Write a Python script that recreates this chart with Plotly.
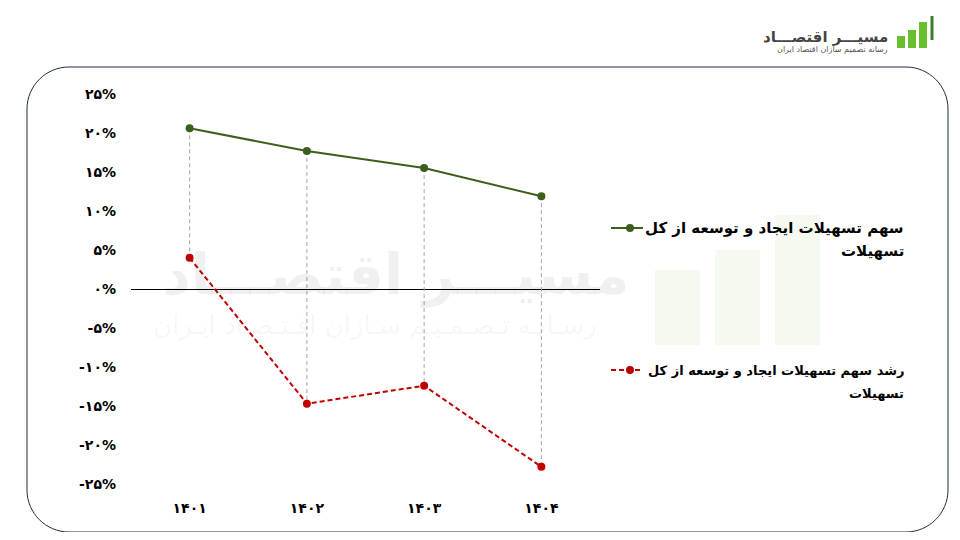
import plotly.graph_objects as go

years = ["۱۴۰۱", "۱۴۰۲", "۱۴۰۳", "۱۴۰۴"]
share = [20.6, 17.7, 15.5, 11.9]
growth = [4.0, -14.7, -12.4, -22.8]
share_name = "سهم تسهیلات ایجاد و توسعه از کل"
growth_name = "رشد سهم تسهیلات ایجاد و توسعه از کل"
name_tail = "تسهیلات"
tick_vals = [25, 20, 15, 10, 5, 0, -5, -10, -15, -20, -25]
tick_text = ["۲۵%", "۲۰%", "۱۵%", "۱۰%", "۵%", "۰%", "-۵%", "-۱۰%", "-۱۵%", "-۲۰%", "-۲۵%"]

GREEN = "#3d5e1c"
RED = "#c00000"
FONT = "DejaVu Sans"

OFF = 8  # page body margin
W, H = 960 - 2 * OFF, 540 - 2 * OFF
# reference pixel positions of the plot area
L, R, T, B = 131, 600, 94, 484


def px(x):
    return (x - L) / (R - L)


def py(y):
    return (B - y) / (B - T)


fig = go.Figure()

# drop lines between the two series
dx, dy = [], []
for c, g, r in zip(years, share, growth):
    dx += [c, c, None]
    dy += [g, r, None]
fig.add_trace(go.Scatter(x=dx, y=dy, mode="lines",
                         line=dict(color="#a6a6a6", width=1, dash="4px,3px"),
                         hoverinfo="skip", showlegend=False))

fig.add_trace(go.Scatter(x=years, y=share, mode="lines+markers", name=share_name,
                         line=dict(color=GREEN, width=2),
                         marker=dict(color=GREEN, size=8), showlegend=False))
fig.add_trace(go.Scatter(x=years, y=growth, mode="lines+markers", name=growth_name,
                         line=dict(color=RED, width=2, dash="5px,3px"),
                         marker=dict(color=RED, size=8), showlegend=False))

shapes = []
annotations = []

# rounded frame
x0, x1, y0, y1, rad = 27, 948, 67, 532, 42
k = 0.55 * rad
pts = [
    ("M", [(x0 + rad, y0)]),
    ("L", [(x1 - rad, y0)]),
    ("C", [(x1 - rad + k, y0), (x1, y0 + rad - k), (x1, y0 + rad)]),
    ("L", [(x1, y1 - rad)]),
    ("C", [(x1, y1 - rad + k), (x1 - rad + k, y1), (x1 - rad, y1)]),
    ("L", [(x0 + rad, y1)]),
    ("C", [(x0 + rad - k, y1), (x0, y1 - rad + k), (x0, y1 - rad)]),
    ("L", [(x0, y0 + rad)]),
    ("C", [(x0, y0 + rad - k), (x0 + rad - k, y0), (x0 + rad, y0)]),
]
path = ""
for cmd, ps in pts:
    path += cmd + " " + " ".join(f"{px(a):.5f},{py(b):.5f}" for a, b in ps) + " "
path += "Z"
shapes.append(dict(type="path", xref="paper", yref="paper", path=path,
                   line=dict(color="#1f2a44", width=1), layer="below"))

# faint watermark
annotations.append(dict(x=px(395), y=py(275), xref="paper", yref="paper",
                        text="<b>مسیـــر اقتصـــاد</b>", showarrow=False,
                        font=dict(family=FONT, size=56, color="rgba(0,0,0,0.06)")))
annotations.append(dict(x=px(375), y=py(325), xref="paper", yref="paper",
                        text="رسـانـه تـصـمـیـم سـازان اقـتـصـاد ایـران", showarrow=False,
                        font=dict(family=FONT, size=26, color="rgba(0,0,0,0.05)")))
for bx0, bx1, by0 in [(655, 700, 270), (715, 760, 250), (775, 820, 215)]:
    shapes.append(dict(type="rect", xref="paper", yref="paper",
                       x0=px(bx0), x1=px(bx1), y0=py(345), y1=py(by0),
                       fillcolor="rgba(120,180,60,0.07)", line=dict(width=0), layer="below"))


# legend
def legend_entry(yline, color, dash, line1, line2, x_start, x_end, fsize):
    shapes.append(dict(type="line", xref="paper", yref="paper",
                       x0=px(x_start), x1=px(x_end), y0=py(yline), y1=py(yline),
                       line=dict(color=color, width=2, dash=dash)))
    mx = (x_start + x_end) / 2 + 3
    shapes.append(dict(type="circle", xref="paper", yref="paper",
                       x0=px(mx - 4), x1=px(mx + 4), y0=py(yline + 4), y1=py(yline - 4),
                       fillcolor=color, line=dict(color=color, width=0)))
    annotations.append(dict(x=px(906), y=py(yline), xref="paper", yref="paper",
                            xanchor="right", yanchor="middle", text="<b>" + line1 + "</b>",
                            showarrow=False, font=dict(family=FONT, size=fsize, color="black")))
    annotations.append(dict(x=px(906), y=py(yline + 23), xref="paper", yref="paper",
                            xanchor="right", yanchor="middle", text="<b>" + line2 + "</b>",
                            showarrow=False, font=dict(family=FONT, size=fsize, color="black")))


legend_entry(228, GREEN, "solid", share_name, name_tail, 611, 643, 15)
legend_entry(370, RED, "5px,3px", growth_name, name_tail, 611, 643, 13)

# logo
for bx0, bx1, by0 in [(897, 905, 36), (908, 916, 30), (919, 927, 22)]:
    shapes.append(dict(type="rect", xref="paper", yref="paper",
                       x0=px(bx0), x1=px(bx1), y0=py(48), y1=py(by0),
                       fillcolor="#6abf2f", line=dict(width=0)))
shapes.append(dict(type="line", xref="paper", yref="paper",
                   x0=px(932), x1=px(932), y0=py(40), y1=py(16),
                   line=dict(color="#3a7d2a", width=3)))
annotations.append(dict(x=px(890), y=py(26), xref="paper", yref="paper", xanchor="right",
                        text="<b>مسیـــر اقتصـــاد</b>", showarrow=False,
                        font=dict(family=FONT, size=15, color="#444444")))
annotations.append(dict(x=px(890), y=py(43), xref="paper", yref="paper", xanchor="right",
                        text="رسانه تصمیم سازان اقتصاد ایران", showarrow=False,
                        font=dict(family=FONT, size=8, color="#555555")))

fig.update_layout(
    width=W, height=H,
    margin=dict(l=L - OFF, r=(960 - OFF) - R, t=T - OFF, b=(540 - OFF) - B, pad=0),
    paper_bgcolor="white", plot_bgcolor="rgba(0,0,0,0)",
    shapes=shapes, annotations=annotations,
    showlegend=False,
    xaxis=dict(type="category", range=[-0.5, 3.5], showgrid=False, zeroline=False,
               showline=False, ticks="", tickfont=dict(family=FONT, size=14, color="black"),
               tickprefix="<b>", ticksuffix="</b>", ticklabelstandoff=14),
    yaxis=dict(range=[-25, 25], tickvals=tick_vals, ticktext=["<b>" + t + "</b>" for t in tick_text],
               showgrid=False, zeroline=True, zerolinecolor="black", zerolinewidth=1,
               showline=False, ticks="", tickfont=dict(family=FONT, size=14, color="black"),
               ticklabelstandoff=14),
)

fig.write_html("out.html")
